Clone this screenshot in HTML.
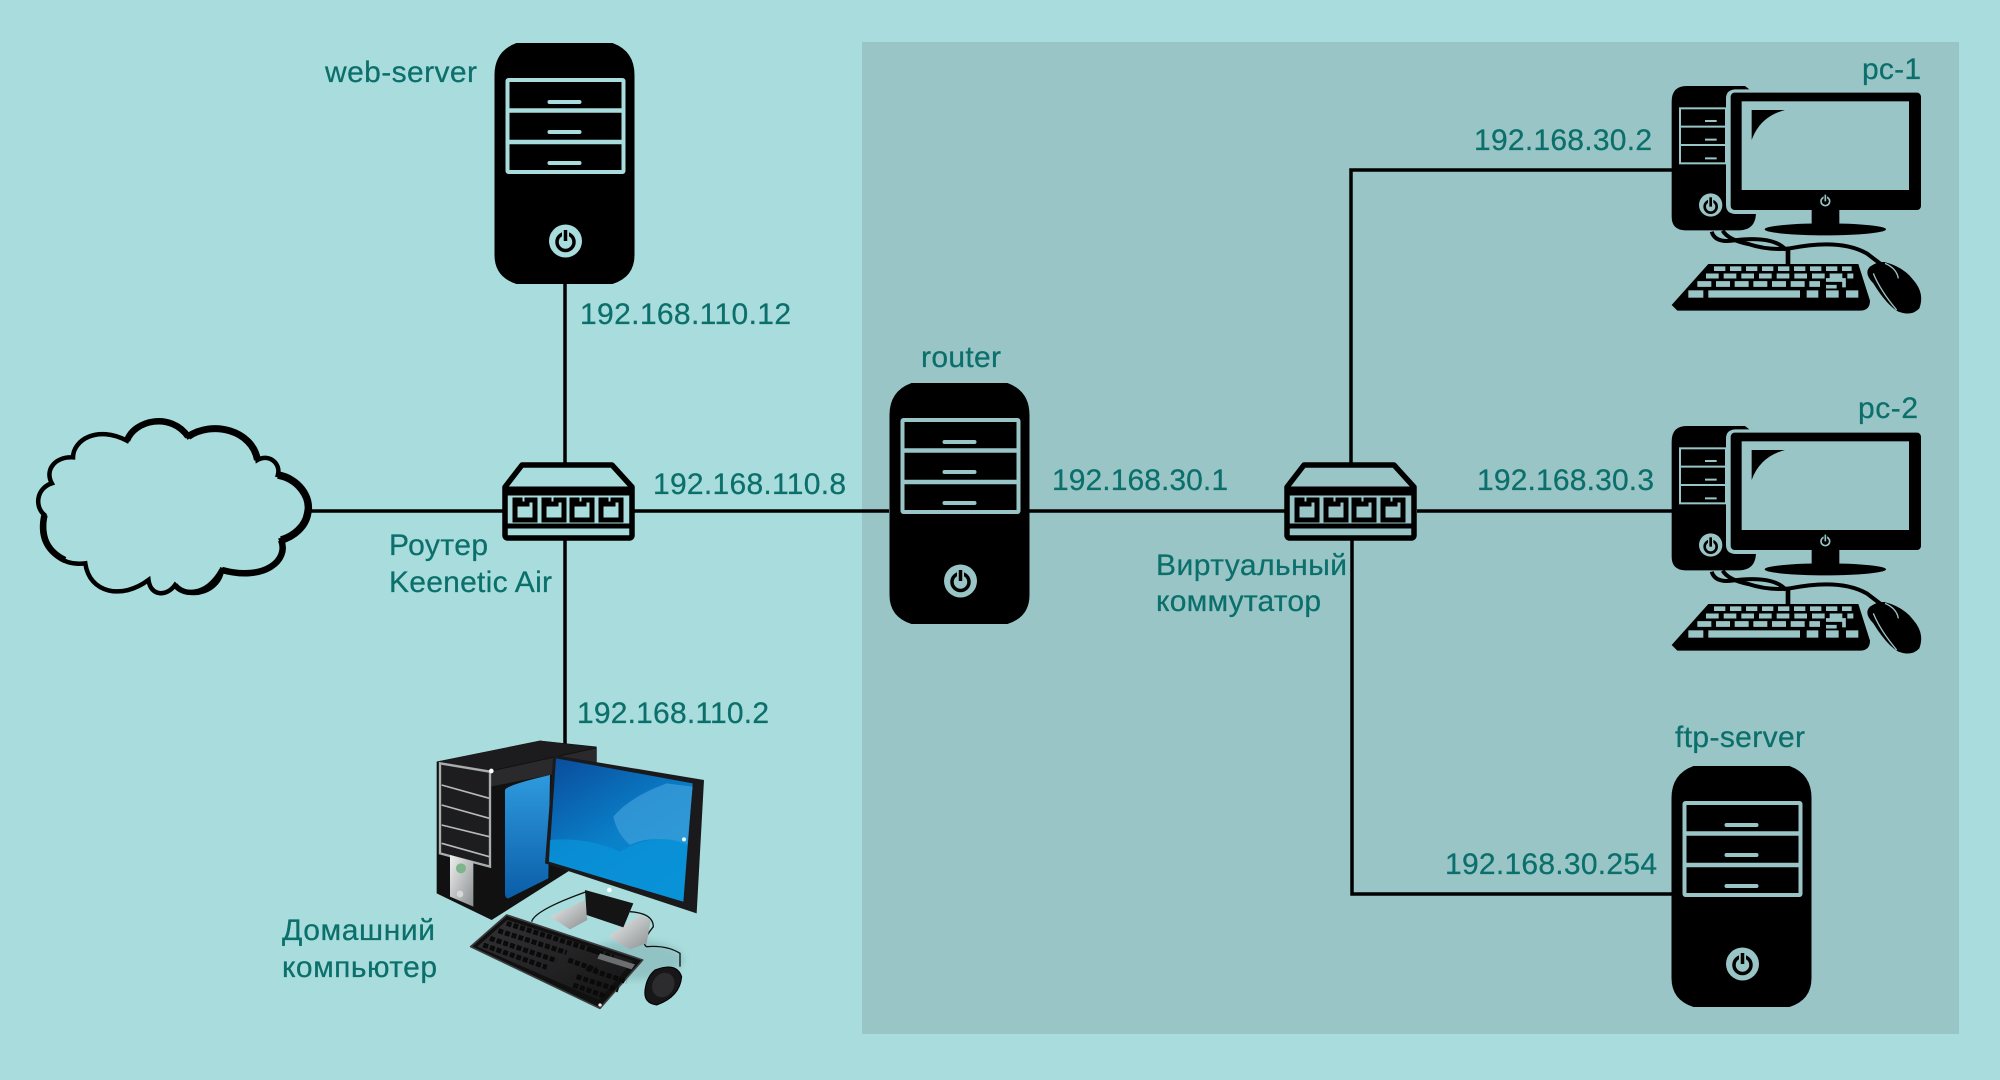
<!DOCTYPE html>
<html><head><meta charset="utf-8"><style>
html,body{margin:0;padding:0;background:#a9dcdc}
svg{display:block}
text{font-family:"Liberation Sans",sans-serif;font-size:30px;fill:#0b6f6b;stroke:#0b6f6b;stroke-width:.25px}
</style></head><body>
<svg width="2000" height="1080" viewBox="0 0 2000 1080" xmlns="http://www.w3.org/2000/svg">
<defs>
<symbol id="srv" width="141" height="242" viewBox="0 0 140 242" overflow="visible">
 <path d="M22 0H118Q140 8 140 32V212Q140 234 118 241H22Q0 234 0 212V32Q0 8 22 0Z" fill="#000"/>
 <g fill="none" stroke="currentColor" stroke-width="4">
  <rect x="13" y="37" width="116" height="92" rx="1"/>
  <path d="M13 67.5H129M13 99H129" stroke-width="4.5"/>
 </g>
 <path d="M55 59H85M55 89H85M55 120H85" stroke="currentColor" stroke-width="4" stroke-linecap="round"/>
 <circle cx="71" cy="198" r="16.5" fill="currentColor"/>
 <circle cx="71" cy="199" r="8.5" fill="none" stroke="#000" stroke-width="3.5"/>
 <path d="M71 187V199" stroke="currentColor" stroke-width="7"/>
 <path d="M71 187V198" stroke="#000" stroke-width="3.5"/>
</symbol>
<symbol id="sw" width="132" height="78" viewBox="0 0 132 78" overflow="visible">
 <path d="M19 2H109L129 24V72Q129 75 126 75H5Q2 75 2 72V24Z" fill="none" stroke="#000" stroke-width="5.5" stroke-linejoin="round"/>
 <path d="M2 26H129" stroke="#000" stroke-width="5"/>
 <path d="M2 30H129M2 63H129" stroke="#000" stroke-width="5"/>
 <g fill="none" stroke="#000" stroke-width="5">
  <path d="M12 37H17V41H24V37H32V57H12Z"/><path d="M41 37H46V41H53V37H61V57H41Z"/>
  <path d="M69 37H74V41H81V37H89V57H69Z"/><path d="M98 37H103V41H110V37H118V57H98Z"/>
 </g>
</symbol>
<symbol id="pc" width="300" height="270" viewBox="0 0 900 810" overflow="visible">
 <path d="M95 125Q95 78 140 78H315L328 88H285Q258 90 258 115V435Q258 460 285 462H348Q345 510 298 511H135Q95 510 95 470Z" fill="#000"/>
 <g fill="none" stroke="#99c5c7" stroke-width="6"><rect x="120" y="145" width="138" height="165"/><path d="M120 200H258M120 255H258"/></g>
 <path d="M195 183H230M195 239H230M195 295H230" stroke="#99c5c7" stroke-width="6"/>
 <circle cx="212" cy="435" r="35" fill="#99c5c7"/>
 <circle cx="212" cy="440" r="18" fill="none" stroke="#000" stroke-width="8"/>
 <path d="M212 412V440" stroke="#99c5c7" stroke-width="16"/><path d="M212 412V440" stroke="#000" stroke-width="8"/>
 <rect x="272" y="98" width="571" height="352" rx="12" fill="#000"/>
 <rect x="305" y="124" width="502" height="266" fill="#99c5c7"/>
 <path d="M335 150H435Q360 170 335 240Z" fill="#000"/>
 <circle cx="556" cy="424" r="13" fill="none" stroke="#99c5c7" stroke-width="5"/>
 <path d="M556 404V424" stroke="#000" stroke-width="10"/><path d="M556 404V424" stroke="#99c5c7" stroke-width="5"/>
 <rect x="515" y="448" width="83" height="45" fill="#000"/>
 <ellipse cx="556" cy="508" rx="182" ry="18" fill="#000"/>
 <g fill="none" stroke="#000" stroke-width="12">
  <path d="M215 515Q225 548 275 542Q400 525 438 570"/>
  <path d="M248 512Q265 540 325 552Q385 572 450 565Q600 535 680 580L722 612"/>
  <path d="M444 570V615" stroke-width="14"/>
 </g>
 <path d="M205 612H655L690 722Q690 752 660 752H112L95 735Z" fill="#000"/>
 <g fill="none" stroke="#99c5c7">
  <path d="M222 626H635" stroke-width="14" stroke-dasharray="34 14"/>
  <path d="M198 648H640" stroke-width="15" stroke-dasharray="38 15"/>
  <path d="M172 672H540" stroke-width="17" stroke-dasharray="42 14"/>
  <path d="M145 702H190" stroke-width="22"/>
  <path d="M205 702H480" stroke-width="22"/>
  <path d="M500 702H535M558 702H596M618 702H655" stroke-width="22"/>
  <path d="M558 660H612V682M558 680H590" stroke-width="11"/>
 </g>
 <path d="M733 606Q790 620 820 660Q855 700 838 745Q815 770 775 755Q740 735 700 670Q670 640 690 620Q710 605 733 606Z" fill="#000"/>
 <path d="M700 640Q720 690 770 750" fill="none" stroke="#99c5c7" stroke-width="4"/>
 <path d="M735 610Q770 625 775 655" fill="none" stroke="#99c5c7" stroke-width="4"/>
</symbol>
<linearGradient id="scr" x1="0.1" y1="0" x2="0.7" y2="1"><stop offset="0" stop-color="#0a4f9e"/><stop offset=".55" stop-color="#0a7fc8"/><stop offset="1" stop-color="#0b90d4"/></linearGradient>
<linearGradient id="win" x1="0" y1="0" x2="0" y2="1"><stop offset="0" stop-color="#2f9ade"/><stop offset="1" stop-color="#0a5ea8"/></linearGradient>
<linearGradient id="dark" x1="0" y1="0" x2="1" y2="1"><stop offset="0" stop-color="#333335"/><stop offset="1" stop-color="#141415"/></linearGradient>
<linearGradient id="sil" x1="0" y1="0" x2="1" y2="1"><stop offset="0" stop-color="#f0f0f0"/><stop offset="1" stop-color="#8a8f90"/></linearGradient>
<filter id="bl" x="-20%" y="-20%" width="140%" height="140%"><feGaussianBlur stdDeviation="10"/></filter>
</defs>

<rect width="2000" height="1080" fill="#a9dcdc"/>
<rect x="862" y="42" width="1097" height="992" fill="#99c5c7"/>

<g fill="none" stroke="#000" stroke-width="3.5">
 <path d="M565 284V463M565 538V745"/>
 <path d="M309 511H503M634 511H889M1029 511H1285M1417 511H1672"/>
 <path d="M1351 463V170H1672"/>
 <path d="M1352 538V894H1672"/>
</g>

<use href="#srv" x="494" y="43" style="color:#a9dcdc"/>
<use href="#srv" x="889" y="383" style="color:#99c5c7"/>
<use href="#srv" x="1671" y="766" style="color:#99c5c7"/>
<use href="#sw" x="503" y="463"/>
<use href="#sw" x="1285" y="463"/>
<use href="#pc" x="1640" y="60"/>
<use href="#pc" x="1640" y="400"/>

<g transform="translate(20 400) scale(.408 .3333)">
 <path d="M60 345C35 320 40 265 78 250C60 210 85 170 130 172C130 120 190 75 262 122C280 60 370 35 412 110C470 60 570 90 582 180C610 160 640 190 632 225C680 235 715 290 705 340C700 380 670 410 640 420C660 480 600 545 495 510C490 570 420 605 380 555C360 590 320 590 315 540C250 600 170 580 160 490C100 500 50 450 60 345Z" fill="#a9dcdc" stroke="#000" stroke-width="4.5" vector-effect="non-scaling-stroke"/>
 <path d="M262 122C280 60 370 35 412 110" fill="none" stroke="#000" stroke-width="6.5" vector-effect="non-scaling-stroke"/>
 <path d="M412 110C470 60 570 90 582 180" fill="none" stroke="#000" stroke-width="7" vector-effect="non-scaling-stroke"/>
 <path d="M632 225C680 235 715 290 705 340C700 380 670 410 640 420" fill="none" stroke="#000" stroke-width="7.5" vector-effect="non-scaling-stroke"/>
 <path d="M640 420C660 480 600 545 495 510" fill="none" stroke="#000" stroke-width="6.5" vector-effect="non-scaling-stroke"/>
 <path d="M60 345C50 400 60 450 110 480" fill="none" stroke="#000" stroke-width="6.5" vector-effect="non-scaling-stroke"/>
 <path d="M380 555C400 590 460 590 495 510" fill="none" stroke="#000" stroke-width="5.5" vector-effect="non-scaling-stroke"/>
</g>

<!-- colour desktop -->
<g transform="translate(400 720) scale(.33333)">
 <ellipse cx="700" cy="720" rx="150" ry="60" fill="#7fb0b2" opacity=".55" filter="url(#bl)"/>
 <path d="M110 125L420 62 590 80V400L275 600 110 520Z" fill="#111"/>
 <path d="M270 155L590 85V130L450 165 270 200Z" fill="#2a2a2c"/>
 <path d="M110 125L420 62 590 82 270 152Z" fill="#1c1c1e"/>
 <path d="M315 210Q320 195 450 165L445 475 325 535Q315 535 315 520Z" fill="url(#win)"/>
 <path d="M120 130L270 155V440L120 400Z" fill="#1d1d1f" stroke="#a8adaf" stroke-width="7"/>
 <path d="M125 195L268 235M125 255L268 295M125 315L268 350M125 370L268 410" stroke="#b5babb" stroke-width="5"/>
 <path d="M150 405L220 425V560L150 530Z" fill="url(#sil)"/>
 <circle cx="183" cy="445" r="15" fill="#7fb58a"/><circle cx="180" cy="522" r="10" fill="#d8d8d8"/>
 <circle cx="274" cy="153" r="7" fill="#fff"/>
 <path d="M395 605Q405 570 560 515" fill="none" stroke="#111" stroke-width="4"/>
 <path d="M690 575Q760 580 760 620Q720 670 740 680Q800 675 840 700V740" fill="none" stroke="#111" stroke-width="4"/>
 <path d="M450 590L555 540 562 600 510 628Z" fill="url(#sil)"/>
 <path d="M625 650L720 585 752 600 740 670 690 688Z" fill="url(#sil)"/>
 <path d="M555 510L700 550 670 622 560 585Z" fill="#141414"/>
 <path d="M460 105L912 180 890 580 435 430Z" fill="#1a1a1c"/>
 <path d="M468 115L878 190 850 545 447 425Z" fill="url(#scr)"/>
 <path d="M640 290Q690 230 800 190L878 200 862 375Q760 340 690 375Q650 340 640 290Z" fill="#3ea0dc" opacity=".7"/>
 <path d="M450 360Q560 350 660 395Q760 335 860 370L850 545 447 425Z" fill="#0a93d8" opacity=".75"/>
 <circle cx="628" cy="510" r="7" fill="#fff"/><circle cx="852" cy="358" r="6" fill="#dff"/>
 <path d="M212 680L320 585 728 720 600 865Z" fill="#101011" stroke="#3c3c3e" stroke-width="5" stroke-linejoin="round"/>
 <path d="M232 680L322 600 700 722 598 840Z" fill="url(#dark)"/>
 <g fill="none" stroke="#0a0a0b" stroke-width="15" stroke-dasharray="15 6">
  <path d="M320 610L600 698M295 632L500 698M270 655L470 722M250 675L440 742"/>
  <path d="M505 720L590 750M575 690L640 712M530 770L655 810M560 745L680 785M520 795L620 830"/>
 </g>
 <path d="M600 700L705 733 695 748 592 716Z" fill="#6b6f70"/>
 <circle cx="600" cy="855" r="5" fill="#eee"/>
 <path d="M765 750Q830 725 845 770Q840 830 770 855Q730 850 735 810Q740 770 765 750Z" fill="#17171a" stroke="#000" stroke-width="3"/>
 <ellipse cx="790" cy="795" rx="32" ry="38" fill="#2c2c2f" transform="rotate(30 790 795)"/>
</g>

<text x="325" y="82" textLength="152">web-server</text>
<text x="580" y="324" textLength="211">192.168.110.12</text>
<text x="653" y="494" textLength="193">192.168.110.8</text>
<text x="389" y="555" textLength="99">Роутер</text>
<text x="389" y="592" textLength="163">Keenetic Air</text>
<text x="577" y="723" textLength="192">192.168.110.2</text>
<text x="282" y="940" textLength="153">Домашний</text>
<text x="282" y="977" textLength="155">компьютер</text>
<text x="921" y="367" textLength="80">router</text>
<text x="1052" y="490" textLength="176">192.168.30.1</text>
<text x="1156" y="575" textLength="191">Виртуальный</text>
<text x="1156" y="611" textLength="165">коммутатор</text>
<text x="1474" y="150" textLength="178">192.168.30.2</text>
<text x="1477" y="490" textLength="177">192.168.30.3</text>
<text x="1445" y="874" textLength="212">192.168.30.254</text>
<text x="1862" y="79" textLength="59">pc-1</text>
<text x="1858" y="418" textLength="60">pc-2</text>
<text x="1675" y="747" textLength="130">ftp-server</text>
</svg>
</body></html>
